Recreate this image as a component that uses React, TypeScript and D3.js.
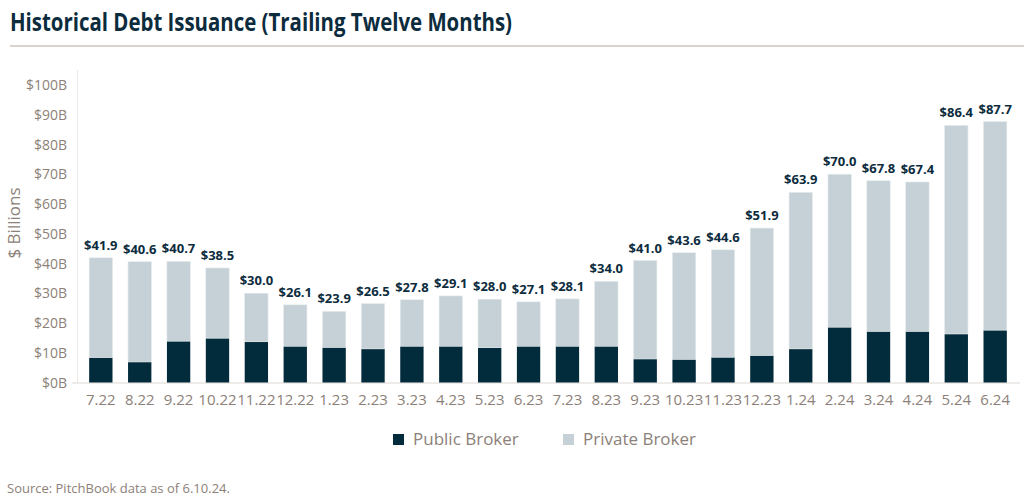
import React from "react";
import * as d3 from "d3";

const months = [
  "7.22", "8.22", "9.22", "10.22", "11.22", "12.22", "1.23", "2.23", "3.23", "4.23", "5.23", "6.23",
  "7.23", "8.23", "9.23", "10.23", "11.23", "12.23", "1.24", "2.24", "3.24", "4.24", "5.24", "6.24",
];
// trailing twelve month totals ($B), as labelled above each bar
const totals = [
  41.9, 40.6, 40.7, 38.5, 30.0, 26.1, 23.9, 26.5, 27.8, 29.1, 28.0, 27.1,
  28.1, 34.0, 41.0, 43.6, 44.6, 51.9, 63.9, 70.0, 67.8, 67.4, 86.4, 87.7,
];
const publicBroker = [
  8.4, 6.9, 13.9, 14.9, 13.7, 12.2, 11.8, 11.3, 12.2, 12.2, 11.7, 12.2,
  12.2, 12.2, 7.9, 7.8, 8.5, 9.1, 11.3, 18.6, 17.2, 17.2, 16.3, 17.6,
];
const yTicks = [0, 10, 20, 30, 40, 50, 60, 70, 80, 90, 100];

const DARK = "#022b3b";
const LIGHT = "#c5d1d6";
const GRAY = "#8c8179";
const FONT = "'Open Sans', sans-serif";

export default function App() {
  const width = 1024;
  const height = 498;
  const x = d3
    .scaleBand<string>()
    .domain(months)
    .range([77.5, 1018.5])
    .paddingInner(0.4)
    .paddingOuter(0.3);
  const y = d3.scaleLinear().domain([0, 100]).range([382.5, 85]);

  const rows = months.map((m, i) => ({
    month: m,
    pub: publicBroker[i],
    priv: totals[i] - publicBroker[i],
    total: totals[i],
  }));
  const stack = d3.stack<any>().keys(["pub", "priv"])(rows);
  const colors = [DARK, LIGHT];

  return (
    <svg
      width={width}
      height={height}
      style={{ position: "absolute", left: 0, top: 0, background: "#fff" }}
      fontFamily={FONT}
    >
      <text
        x={10}
        y={31}
        fontSize={25}
        fontWeight={700}
        fill="#0c2c3e"
        textLength={502}
        lengthAdjust="spacingAndGlyphs"
      >
        Historical Debt Issuance (Trailing Twelve Months)
      </text>
      <line x1={10} x2={1024} y1={46} y2={46} stroke="#b3a9a1" strokeWidth={1} />

      {/* axes */}
      <line x1={77.5} x2={77.5} y1={70} y2={383} stroke="#ece9e6" strokeWidth={1} />
      <line x1={72} x2={1020} y1={383} y2={383} stroke="#ddd8d4" strokeWidth={1} />
      {yTicks.map((t) => (
        <text key={t} x={67} y={y(t) + 5} fontSize={14} fill={GRAY} textAnchor="end">
          ${t}B
        </text>
      ))}
      <text
        transform="translate(20,223) rotate(-90)"
        fontSize={17}
        fill={GRAY}
        textAnchor="middle"
      >
        $ Billions
      </text>

      {stack.map((s, si) => (
        <g key={si} fill={colors[si]}>
          {s.map((d, i) => (
            <rect
              key={i}
              x={x(months[i])}
              width={x.bandwidth()}
              y={y(d[1])}
              height={y(d[0]) - y(d[1])}
              stroke={si === 1 ? "#e4eaec" : "none"}
              strokeWidth={si === 1 ? 0.6 : 0}
            />
          ))}
        </g>
      ))}

      {rows.map((r) => (
        <text
          key={r.month}
          x={(x(r.month) as number) + x.bandwidth() / 2}
          y={y(r.total) - 8}
          fontSize={13}
          fontWeight={700}
          fill="#0c2c3e"
          textAnchor="middle"
        >
          ${r.total.toFixed(1)}
        </text>
      ))}

      {months.map((m) => (
        <text
          key={m}
          x={(x(m) as number) + x.bandwidth() / 2}
          y={405}
          fontSize={15}
          fill={GRAY}
          textAnchor="middle"
        >
          {m}
        </text>
      ))}

      {/* legend */}
      <rect x={393} y={434} width={11} height={11} fill={DARK} />
      <text x={413} y={445} fontSize={17} fill={GRAY}>
        Public Broker
      </text>
      <rect x={563} y={434} width={11} height={11} fill={LIGHT} />
      <text x={583} y={445} fontSize={17} fill={GRAY}>
        Private Broker
      </text>

      <text x={7} y={493} fontSize={13} fill={GRAY}>
        Source: PitchBook data as of 6.10.24.
      </text>
    </svg>
  );
}
